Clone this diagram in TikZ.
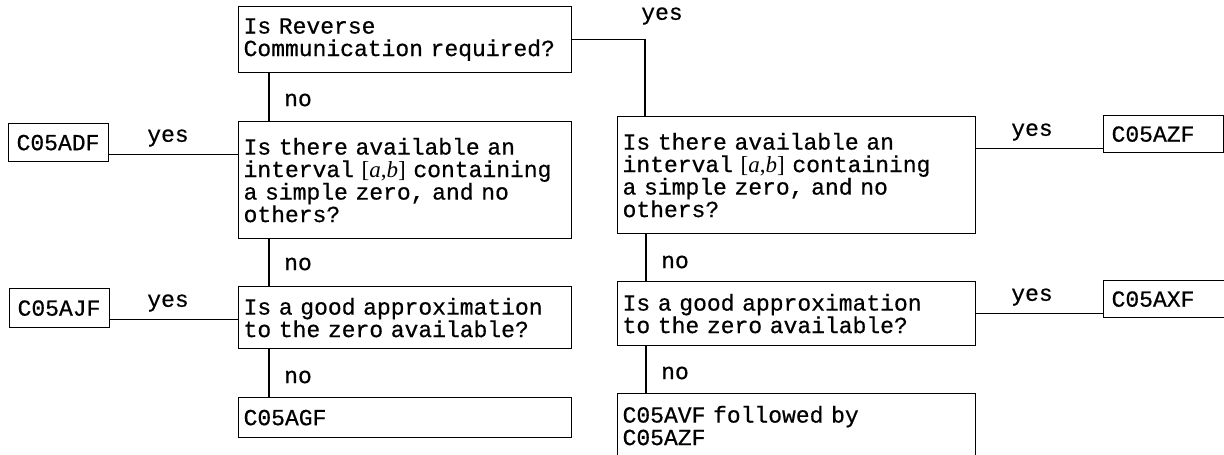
\documentclass[tikz,border=0pt]{standalone}
\usepackage{fontspec}
\newfontfamily\cwfont{Liberation Mono}[FakeBold=0.6]
\newfontfamily\ivfont{Liberation Serif}
\newcommand{\chartfont}{\cwfont\fontsize{23}{22.5}\selectfont}
\newcommand{\ab}{{\ivfont[\textit{a},\textit{b}]}}
\begin{document}
\begin{tikzpicture}[x=1pt,y=-1pt,
  qbox/.style={draw, line width=1.2pt, anchor=north west, inner xsep=5pt,
    inner ysep=0pt, align=left, font=\chartfont},
  pbox/.style={draw, line width=1.2pt, anchor=north west, inner xsep=8pt,
    inner ysep=0pt, align=left, font=\chartfont},
  lbl/.style={font=\chartfont, inner sep=0pt},
  conn/.style={line width=1.2pt}]
\useasboundingbox (0,0) rectangle (1224,455);

% question boxes, left column
\node[qbox, text width=323pt, minimum height=66pt] (rc) at (238,6)
  {Is Reverse\\Communication required?};
\node[qbox, text width=323pt, minimum height=117pt] (l1) at (238,121)
  {Is there available an\\interval \ab{} containing\\a simple zero, and no\\others?};
\node[qbox, text width=323pt, minimum height=62pt] (l2) at (238,286)
  {Is a good approximation\\to the zero available?};
\node[qbox, text width=323pt, minimum height=40pt] (agf) at (238,397)
  {C05AGF};

% question boxes, right column
\node[qbox, text width=348pt, minimum height=117pt] (r1) at (617,116)
  {Is there available an\\interval \ab{} containing\\a simple zero, and no\\others?};
\node[qbox, text width=348pt, minimum height=64pt] (r2) at (617,281)
  {Is a good approximation\\to the zero available?};
\node[qbox, text width=348pt, minimum height=64pt] (avf) at (617,393)
  {C05AVF followed by\\C05AZF};

% routine boxes
\node[pbox, text width=84pt, minimum height=38pt] (adf) at (8,123) {C05ADF};
\node[pbox, text width=84pt, minimum height=39pt] (ajf) at (9,288) {C05AJF};
\node[pbox, text width=104pt, minimum height=37pt] (azf) at (1103,115) {C05AZF};
\node[pbox, text width=112pt, minimum height=37pt] (axf) at (1103,280) {C05AXF};

% branch labels
\node[lbl] (y0) at (662,16) {yes};
\node[lbl] (n1) at (298,100) {no};
\node[lbl] (n2) at (298,264) {no};
\node[lbl] (n3) at (298,377) {no};
\node[lbl] (n4) at (675,262) {no};
\node[lbl] (n5) at (675,373) {no};
\node[lbl] (y1) at (168,138) {yes};
\node[lbl] (y2) at (168,303) {yes};
\node[lbl] (y3) at (1032,132) {yes};
\node[lbl] (y4) at (1032,297) {yes};

% connectors
\draw[conn] (rc.east) -| ([xshift=28pt]r1.north west);
\draw[conn] ([xshift=31pt]rc.south west) -- ([xshift=31pt]l1.north west);
\draw[conn] ([xshift=31pt]l1.south west) -- ([xshift=31pt]l2.north west);
\draw[conn] ([xshift=31pt]l2.south west) -- ([xshift=31pt]agf.north west);
\draw[conn] ([xshift=29pt]r1.south west) -- ([xshift=29pt]r2.north west);
\draw[conn] ([xshift=29pt]r2.south west) -- ([xshift=29pt]avf.north west);
\coordinate (adfy) at ([yshift=8pt]adf.south east);
\coordinate (ajfy) at ([yshift=9pt]ajf.south east);
\coordinate (azfy) at ([yshift=5pt]azf.south west);
\coordinate (axfy) at ([yshift=5pt]axf.south west);
\draw[conn] (adfy) -- (adfy -| l1.west);
\draw[conn] (ajfy) -- (ajfy -| l2.west);
\draw[conn] (azfy -| r1.east) -- (azfy);
\draw[conn] (axfy -| r2.east) -- (axfy);
\end{tikzpicture}
\end{document}
